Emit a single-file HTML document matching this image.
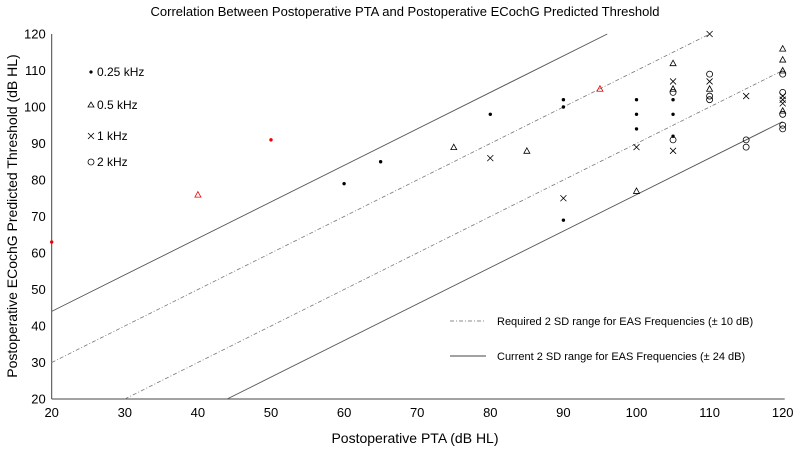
<!DOCTYPE html>
<html><head><meta charset="utf-8"><style>
body{margin:0;background:#fff;}
svg{font-family:"Liberation Sans",Arial,sans-serif;}
</style></head><body>
<svg id="chart" width="800" height="447" xmlns="http://www.w3.org/2000/svg">
<text x="405" y="16" text-anchor="middle" font-size="13">Correlation Between Postoperative PTA and Postoperative ECochG Predicted Threshold</text>
<text x="415" y="443" text-anchor="middle" font-size="14">Postoperative PTA (dB HL)</text>
<text transform="translate(17,216) rotate(-90)" text-anchor="middle" font-size="14">Postoperative ECochG Predicted Threshold (dB HL)</text>
<g id="axes"></g>
<g id="lines"></g>
<g id="marks"></g>
<g>
<circle cx="91" cy="72" r="1.6" fill="#000"/>
<text x="97" y="76" font-size="12">0.25 kHz</text>
<path d="M88,107 L91,102 L94,107 Z" fill="none" stroke="#000" stroke-width="0.8"/>
<text x="97" y="109" font-size="12">0.5 kHz</text>
<path d="M88,133 L94,139 M94,133 L88,139" stroke="#000" stroke-width="0.8"/>
<text x="97" y="140" font-size="12">1 kHz</text>
<circle cx="91" cy="162" r="3" fill="none" stroke="#000" stroke-width="0.8"/>
<text x="97" y="166" font-size="12">2 kHz</text>
<line x1="450" y1="321" x2="486" y2="321" stroke="#666" stroke-dasharray="4,2,1,2" stroke-width="0.8"/>
<text x="497" y="325" font-size="11">Required 2 SD range for EAS Frequencies (± 10 dB)</text>
<line x1="450" y1="356" x2="486" y2="356" stroke="#444" stroke-width="0.9"/>
<text x="497" y="360" font-size="11">Current 2 SD range for EAS Frequencies (± 24 dB)</text>
</g>
</svg>
<script>
const xTicks=[20,30,40,50,60,70,80,90,100,110,120];
const yTicks=[20,30,40,50,60,70,80,90,100,110,120];
const pta=[20,50,60,65,80,90,90,90,100,100,100,105,105,105,40,75,85,95,100,105,105,110,120,120,120,120,80,90,100,105,105,110,110,115,120,120,120,105,105,110,110,110,115,115,120,120,120,120,120];
const ecochg=[63,91,79,85,98,102,100,69,102,98,94,102,98,92,76,89,88,105,77,112,105,105,116,113,110,99,86,75,89,107,88,120,107,103,103,102,101,104,91,109,103,102,91,89,109,104,98,95,94];
const freq=['0.25','0.25','0.25','0.25','0.25','0.25','0.25','0.25','0.25','0.25','0.25','0.25','0.25','0.25','0.5','0.5','0.5','0.5','0.5','0.5','0.5','0.5','0.5','0.5','0.5','0.5','1','1','1','1','1','1','1','1','1','1','1','2','2','2','2','2','2','2','2','2','2','2','2'];
const outlier=[1,1,0,0,0,0,0,0,0,0,0,0,0,0,1,0,0,1,0,0,0,0,0,0,0,0,0,0,0,0,0,0,0,0,0,0,0,0,0,0,0,0,0,0,0,0,0,0,0];
const rangeOffsets=[24,10,-10,-24];
const NS='http://www.w3.org/2000/svg';
const X0=51.7,X1=782.7,Y0=399,Y1=34;
function sx(v){return X0+(v-20)/100*(X1-X0);}
function sy(v){return Y0-(v-20)/100*(Y0-Y1);}
function mk(t,a,p){const e=document.createElementNS(NS,t);for(const k in a)e.setAttribute(k,a[k]);p.appendChild(e);return e;}
const ax=document.getElementById('axes');
let l=mk('line',{x1:X0,y1:Y1,x2:X0,y2:Y0,stroke:'#444','stroke-width':1},ax);


l=mk('line',{x1:X0,y1:Y0,x2:X1+2,y2:Y0,stroke:'#444','stroke-width':1},ax);


xTicks.forEach(v=>{
 const t=mk('text',{x:sx(v),y:Y0+18,'text-anchor':'middle','font-size':13},ax);t.textContent=v;
 
 
});
yTicks.forEach(v=>{
 const t=mk('text',{x:X0-6,y:sy(v)+4.5,'text-anchor':'end','font-size':13},ax);t.textContent=v;
 
 
});
const lg=document.getElementById('lines');
rangeOffsets.forEach(o=>{
 let xa=Math.max(20,20-o),xb=Math.min(120,120-o);
 const dashed=Math.abs(o)===10;
 const a={x1:sx(xa),y1:sy(xa+o),x2:sx(xb),y2:sy(xb+o),stroke:dashed?'#777':'#555','stroke-width':dashed?0.8:0.9};
 if(dashed)a['stroke-dasharray']='4,2,1,2';
 const e=mk('line',a,lg);
 
 
});
const mg=document.getElementById('marks');
pta.forEach((p,i)=>{
 const x=sx(p),y=sy(ecochg[i]),c=outlier[i]?'#e00':'#000';let e;
 if(freq[i]==='0.25')e=mk('circle',{cx:x,cy:y,r:1.7,fill:c},mg);
 else if(freq[i]==='0.5')e=mk('path',{d:`M${x-3},${y+2.5} L${x},${y-3} L${x+3},${y+2.5} Z`,fill:'none',stroke:c,'stroke-width':0.8},mg);
 else if(freq[i]==='1')e=mk('path',{d:`M${x-3},${y-3} L${x+3},${y+3} M${x+3},${y-3} L${x-3},${y+3}`,stroke:c,'stroke-width':0.8},mg);
 else e=mk('circle',{cx:x,cy:y,r:3,fill:'none',stroke:c,'stroke-width':0.8},mg);
 
 
});
</script>
</body></html>
